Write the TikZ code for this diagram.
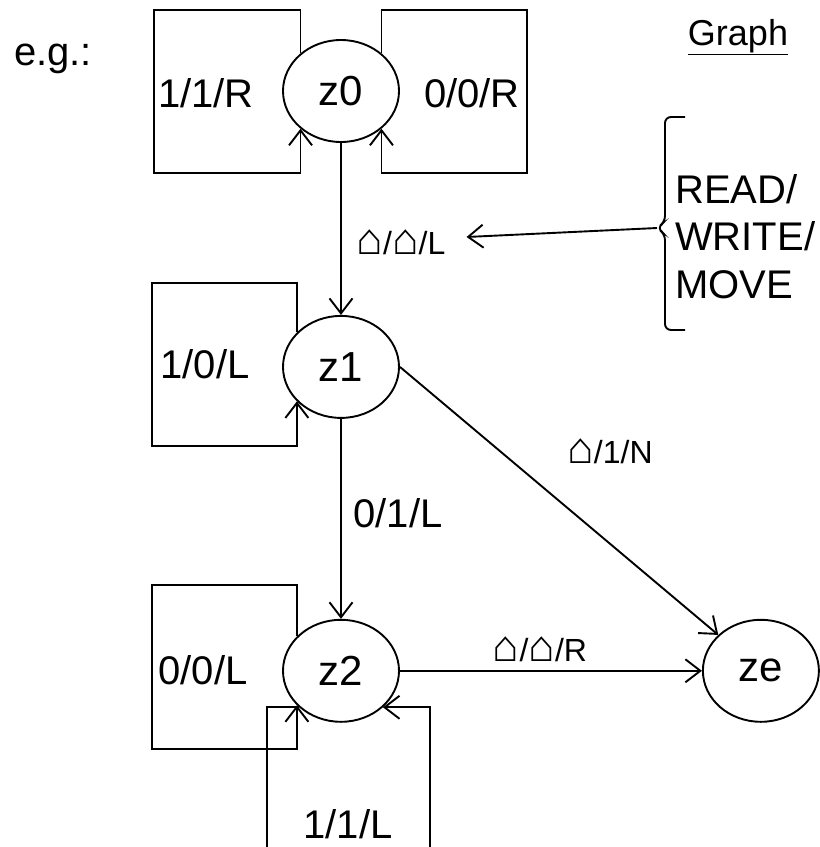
\documentclass[tikz,border=0pt]{standalone}
\usepackage{fontspec}
\setmainfont{Liberation Sans}
\usetikzlibrary{shapes.geometric,arrows.meta,positioning}

% blank symbol of the tape
\newcommand{\tapeblank}{{\fontsize{44}{44}\selectfont ⌂}}

\begin{document}
\begin{tikzpicture}[
    x=1pt, y=-1pt,
    state/.style={
        ellipse,
        draw=black,
        line width=1.9pt,
        minimum width=116pt,
        minimum height=102pt,
        inner sep=0pt,
        font=\fontsize{42}{46}\selectfont
    },
    lbl/.style={inner sep=0pt, font=\fontsize{40}{44}\selectfont},
    blank/.style={inner sep=0pt, font=\fontsize{32}{36}\selectfont},
    arrow/.style={-{Straight Barb[length=15pt,width=23pt]}, line width=1.9pt},
    line/.style={line width=1.9pt}
]

\clip (0,0) rectangle (820,847);

% States
\node[state] (z0) at (341,91) {z0};
\node[state, below=172pt of z0] (z1) {z1};
\node[state, below=200pt of z1] (z2) {z2};
\node[state, right=302pt of z2] (ze) {ze};

% Transitions
\draw[arrow] (z0) -- (z1);
\draw[arrow] (z1) -- (z2);
\draw[arrow] (z1.east) -- (ze);
\draw[arrow] (z2) -- (ze);

% Loops
\draw[arrow] (z0.137) |- (154,10) -- (154,173) -| (z0.223);
\draw[arrow] (z0.43) |- (527,10) -- (527,173) -| (z0.-43);
\draw[arrow] (z1.142) |- (152,283) -- (152,446) -| (z1.218);
\draw[arrow] (z2.142) |- (152,585) -- (152,749) -| (z2.218);
\draw[arrow] (z2.221) -| (267,880) -- (430,880) |- (z2.-41);

% Labels
\node[lbl] (l11r) at (206,93) {1/1/R};
\node[lbl] (l00r) at (472,93) {0/0/R};
\node[lbl] (l10l) at (205,364) {1/0/L};
\node[lbl] (l01l) at (398,513) {0/1/L};
\node[lbl] (l00l) at (203,670) {0/0/L};
\node[lbl] (l11l) at (348,824) {1/1/L};
\node[blank] (lbbl) at (401,242) {\tapeblank/\tapeblank/L};
\node[blank] (lb1n) at (610,451) {\tapeblank/1/N};
\node[blank] (lbbr) at (540,649) {\tapeblank/\tapeblank/R};

% Heading
\node[lbl] (eg) at (53,59) {e.g.:};
\node[inner sep=0pt, anchor=base, font=\fontsize{36}{40}\selectfont] (graph) at (738,45) {\underline{Graph}};

% Read/write/move note
\node[inner sep=0pt, anchor=north west, align=left, font=\fontsize{40}{47.5}\selectfont] (rwm) at (675,174) {READ/\\WRITE/\\MOVE};
\draw[line, rounded corners=6pt] (685,117) -- (665,117) -- (665,222) -- (657,228) -- (665,234) -- (665,330) -- (685,330);
\coordinate (tip) at (657,228);
\draw[arrow] (tip) -- ([xshift=21pt,yshift=5pt]lbbl.east);

\end{tikzpicture}
\end{document}
